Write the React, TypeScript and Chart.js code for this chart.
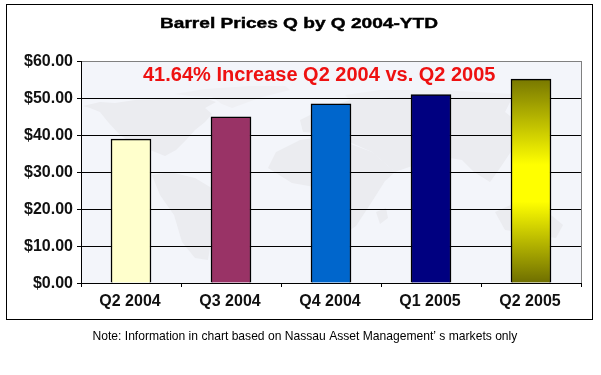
import React, { useEffect, useRef } from "react";
import { Chart, registerables } from "chart.js";

Chart.register(...registerables);

const categories = ["Q2 2004", "Q3 2004", "Q4 2004", "Q1 2005", "Q2 2005"];
const prices = [38.9, 44.9, 48.4, 50.9, 55.1];
const solidColors = ["#FFFFCC", "#993366", "#0066CC", "#000080", null];
const titleText = "Barrel Prices Q by Q 2004-YTD";
const calloutText = "41.64% Increase Q2 2004 vs. Q2 2005";
const noteText = "Note: Information in chart based on Nassau Asset Management\u2019 s markets only";
const FONT = '"Liberation Sans", Arial, sans-serif';

// Faint decorative world map behind the plot (canvas pixels).
const mapShapes: number[][][] = [
  [[83,106],[100,102],[115,103],[135,100],[160,99],[178,98],[205,98],[216,102],[205,108],[212,114],[205,122],[195,130],[186,140],[176,150],[165,156],[150,150],[135,145],[120,135],[108,122],[100,112],[90,108]],
  [[152,175],[170,172],[195,178],[215,190],[225,198],[222,215],[212,235],[208,260],[195,258],[182,242],[174,215],[160,195]],
  [[268,168],[276,152],[300,140],[328,136],[345,142],[372,152],[395,172],[385,181],[373,200],[356,226],[350,230],[335,205],[320,188],[292,183]],
  [[376,212],[386,208],[388,218],[380,224]],
  [[300,120],[320,110],[350,100],[390,97],[440,96],[512,98],[505,112],[515,120],[512,150],[500,168],[490,182],[474,172],[462,160],[450,158],[440,190],[425,175],[415,165],[395,172],[372,152],[345,140],[328,134],[303,132]],
  [[495,212],[515,203],[540,206],[563,225],[556,238],[530,234],[505,230]],
];
const faintShapes: number[][][] = [
  [[175,94],[205,89],[250,86],[285,86],[290,90],[262,97],[232,108],[222,104],[212,97],[190,96]],
  [[345,95],[380,90],[440,90],[512,94],[512,98],[440,96],[390,97],[350,100]],
];

const drawShapes = (ctx: any, shapes: number[][][], color: string) => {
  ctx.fillStyle = color;
  for (const shape of shapes) {
    ctx.beginPath();
    shape.forEach(([x, y], i) => (i ? ctx.lineTo(x, y) : ctx.moveTo(x, y)));
    ctx.closePath();
    ctx.fill();
  }
};

const plotDecor = {
  id: "plotDecor",
  beforeDraw(chart: any) {
    const { ctx, chartArea: a } = chart;
    ctx.save();
    ctx.fillStyle = "#FFFFFF";
    ctx.fillRect(0, 0, chart.width, chart.height);
    ctx.strokeStyle = "#000000";
    ctx.lineWidth = 1;
    ctx.strokeRect(6.5, 4.5, 586, 315);
    ctx.fillStyle = "#F3F5FA";
    ctx.fillRect(a.left, a.top, a.width, a.height);
    ctx.beginPath();
    ctx.rect(a.left, a.top, a.width, a.height);
    ctx.clip();
    drawShapes(ctx, faintShapes, "#EFF0F4");
    drawShapes(ctx, mapShapes, "#EBECF0");
    ctx.restore();
    ctx.save();
    ctx.strokeStyle = "#808080";
    ctx.lineWidth = 1;
    ctx.beginPath();
    ctx.moveTo(a.right + 0.5, a.top);
    ctx.lineTo(a.right + 0.5, a.bottom);
    ctx.stroke();
    ctx.restore();
  },
  afterDraw(chart: any) {
    const { ctx } = chart;
    ctx.save();
    ctx.textBaseline = "alphabetic";
    ctx.textAlign = "left";
    ctx.fillStyle = "#000000";
    ctx.strokeStyle = "#000000";
    ctx.lineWidth = 0.4;
    ctx.font = `bold 14px ${FONT}`;
    const w = ctx.measureText(titleText).width;
    ctx.translate(160, 28);
    ctx.scale(278 / w, 1);
    ctx.fillText(titleText, 0, 0);
    ctx.strokeText(titleText, 0, 0);
    ctx.restore();

    ctx.save();
    ctx.textBaseline = "alphabetic";
    ctx.textAlign = "left";
    ctx.fillStyle = "#EE1111";
    ctx.font = `bold 20px ${FONT}`;
    ctx.fillText(calloutText, 143, 81);
    ctx.fillStyle = "#000000";
    ctx.font = `12.1px ${FONT}`;
    ctx.fillText(noteText, 92.5, 340);
    ctx.restore();
  },
};

export default function App() {
  const ref = useRef<HTMLCanvasElement>(null);
  useEffect(() => {
    const chart = new Chart(ref.current!, {
      type: "bar",
      data: {
        labels: categories,
        datasets: [
          {
            data: prices,
            barThickness: 40,
            borderColor: "#000000",
            borderWidth: 1.5,
            borderSkipped: "bottom",
            backgroundColor: (c: any) => {
              const solid = solidColors[c.dataIndex];
              if (solid) return solid;
              const y = c.chart.scales.y;
              if (!y) return "#FFFF00";
              const g = c.chart.ctx.createLinearGradient(0, y.getPixelForValue(prices[c.dataIndex]), 0, y.getPixelForValue(0));
              g.addColorStop(0, "#787800");
              g.addColorStop(0.42, "#FFFF00");
              g.addColorStop(0.6, "#FFFF00");
              g.addColorStop(1, "#6E6E00");
              return g;
            },
          },
        ],
      },
      options: {
        animation: false,
        responsive: false,
        layout: { padding: { top: 61, right: 20, left: 0, bottom: 0 } },
        plugins: { legend: { display: false }, title: { display: false }, tooltip: { enabled: false } },
        scales: {
          x: {
            afterFit: (s: any) => { s.height = 92; },
            border: { color: "#000000", width: 1 },
            grid: { offset: true, drawOnChartArea: false, color: "#000000", tickLength: 4 },
            ticks: { color: "#111111", padding: 5, labelOffset: -1, maxRotation: 0, autoSkip: false, font: { family: FONT, size: 16, weight: "bold" } },
          },
          y: {
            min: 0,
            max: 60,
            afterFit: (s: any) => { s.width = 81; },
            border: { color: "#000000", width: 1 },
            grid: {
              color: (c: any) => (c.tick && c.tick.value === 60 ? "#808080" : "#000000"),
              tickColor: "#000000",
              tickLength: 4,
            },
            ticks: {
              stepSize: 10,
              color: "#111111",
              padding: 4,
              labelOffset: 1,
              font: { family: FONT, size: 16, weight: "bold" },
              callback: (v: any) => `$${Number(v).toFixed(2)}`,
            },
          },
        },
      },
      plugins: [plotDecor],
    } as any);
    return () => chart.destroy();
  }, []);
  return (
    <div style={{ position: "absolute", left: 0, top: 0, width: 601, height: 375 }}>
      <canvas ref={ref} width={601} height={375} style={{ display: "block" }} />
    </div>
  );
}
